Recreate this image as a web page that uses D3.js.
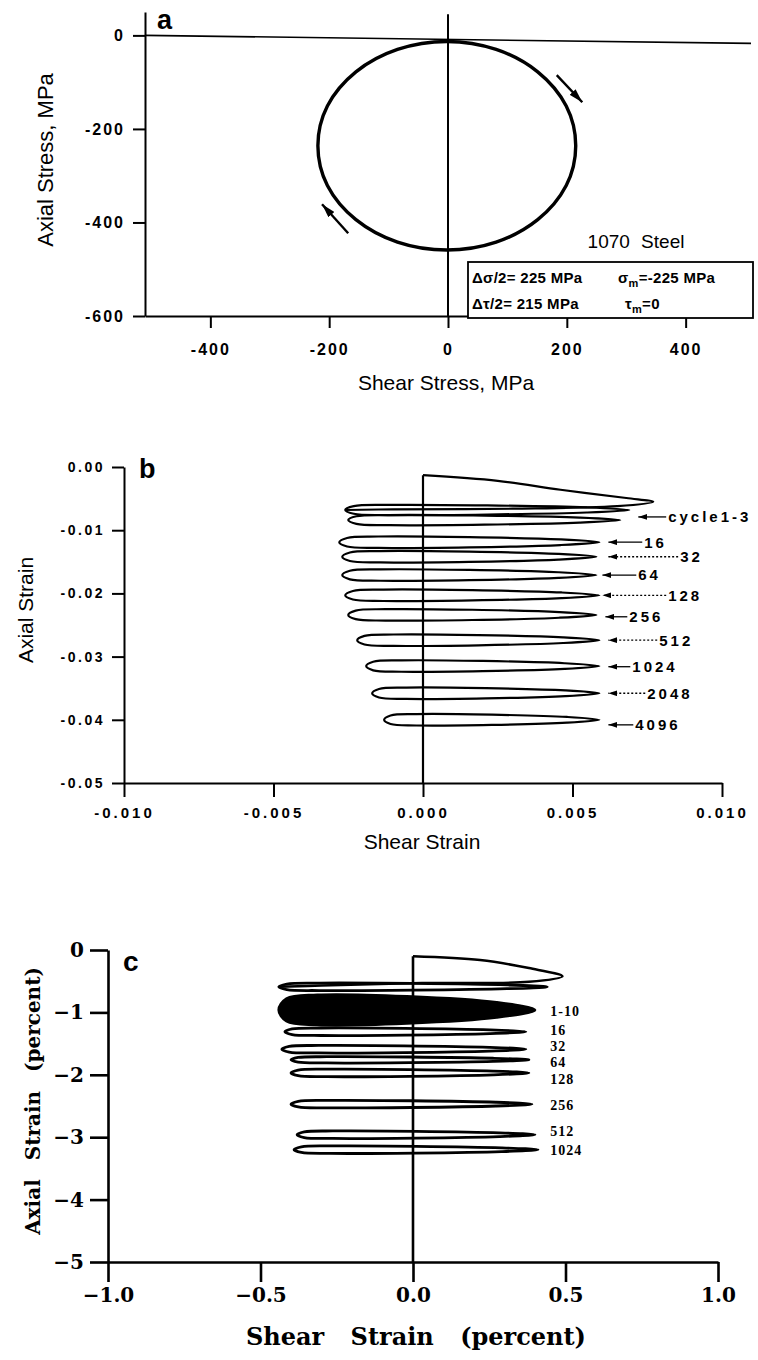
<!DOCTYPE html>
<html>
<head>
<meta charset="utf-8">
<script src="https://cdn.jsdelivr.net/npm/d3@7"></script>
<style>
  body { margin: 0; background: #fff; }
  svg { display: block; }
</style>
</head>
<body>
<div id="graph"></div>
<script>
// ---- panel a : stress path (MPa)
var circleTau   = [215, 199, 151, 81, -2, -85, -155, -203, -219, -203, -155, -85, -2, 81, 151, 199];
var circleSigma = [-236, -151, -78, -30, -13, -30, -78, -151, -236, -321, -394, -442, -459, -442, -394, -321];
var stressTicksX = [-400, -200, 0, 200, 400];
var stressTicksY = [0, -200, -400, -600];
var arrowFromTau = [183, -168], arrowFromSigma = [-85, -423];
var arrowToTau = [226, -212], arrowToSigma = [-143, -361];

// ---- panel b : strain response, strain units
var cyclesB = ["cycle1-3", "16", "32", "64", "128", "256", "512", "1024", "2048", "4096"];
var labelShearB = [0.0082, 0.0074, 0.0086, 0.0072, 0.0082, 0.0069, 0.0079, 0.0070, 0.0075, 0.0071];
var labelAxialB = [-0.0079, -0.0119, -0.0142, -0.0171, -0.0203, -0.0237, -0.0274, -0.0316, -0.0358, -0.0408];
var arrowTipB = [0.0072, 0.0062, 0.0062, 0.0060, 0.0060, 0.0061, 0.0062, 0.0062, 0.0062, 0.0062];
var loopAxialB = [-0.0068, -0.0084, -0.0119, -0.0142, -0.0171, -0.0203, -0.0234, -0.0274, -0.0315, -0.0358, -0.0400];
var loopLeftB  = [-0.0026, -0.0025, -0.0028, -0.0027, -0.0027, -0.0026, -0.0025, -0.0022, -0.0019, -0.0017, -0.0013];
var loopRightB = [0.0069, 0.0066, 0.0059, 0.0058, 0.0058, 0.0059, 0.0058, 0.0059, 0.0059, 0.0059, 0.0059];
var loopHalfB  = [0.0008, 0.0008, 0.0009, 0.0009, 0.0009, 0.0009, 0.0009, 0.0009, 0.0009, 0.0009, 0.0009];
var firstShearB = [0, 0.0025, 0.0046, 0.0068, 0.0077, 0.0065, 0.0030, -0.0010, -0.0026];
var firstAxialB = [-0.0013, -0.0022, -0.0036, -0.0049, -0.0055, -0.0062, -0.0066, -0.0067, -0.0068];
var strainTicksX = [-0.010, -0.005, 0, 0.005, 0.010];
var strainTicksY = [0, -0.01, -0.02, -0.03, -0.04, -0.05];

// ---- panel c : strain response, percent
var cyclesC = ["1-10", "16", "32", "64", "128", "256", "512", "1024"];
var labelAxialC = [-0.98, -1.28, -1.54, -1.80, -2.07, -2.49, -2.90, -3.20];
var labelShearC = 0.45;
var loopAxialC = [-0.59, -0.96, -1.31, -1.59, -1.76, -1.97, -2.47, -2.96, -3.20];
var loopLeftC  = [-0.44, -0.44, -0.42, -0.43, -0.40, -0.40, -0.40, -0.38, -0.39];
var loopRightC = [0.44, 0.40, 0.37, 0.37, 0.38, 0.38, 0.39, 0.40, 0.41];
var loopHalfC  = [0.06, 0.24, 0.06, 0.06, 0.05, 0.06, 0.06, 0.06, 0.06];
var firstShearC = [0, 0.22, 0.38, 0.49, 0.38, 0.03, -0.30, -0.44];
var firstAxialC = [-0.10, -0.16, -0.29, -0.42, -0.51, -0.53, -0.57, -0.59];
var pctTicksX = [-1, -0.5, 0, 0.5, 1];
var pctTicksY = [0, -1, -2, -3, -4, -5];

var W = 758, H = 1360;
var svg = d3.select("#graph").append("svg")
  .attr("width", W).attr("height", H);

var defs = svg.append("defs");
defs.append("marker").attr("id", "headBig")
  .attr("viewBox", "0 0 14 8").attr("refX", 14).attr("refY", 4)
  .attr("markerWidth", 14).attr("markerHeight", 8)
  .attr("markerUnits", "userSpaceOnUse").attr("orient", "auto")
  .append("path").attr("d", "M0,0L14,4L0,8Z").attr("fill", "#000");
defs.append("marker").attr("id", "headSmall")
  .attr("viewBox", "0 0 9 6").attr("refX", 9).attr("refY", 3)
  .attr("markerWidth", 9).attr("markerHeight", 6)
  .attr("markerUnits", "userSpaceOnUse").attr("orient", "auto")
  .append("path").attr("d", "M0,0L9,3L0,6Z").attr("fill", "#000");

// lens shaped hysteresis loop through its tips
function loopPoints(left, right, c, h) {
  var u = [0, 0.03, 0.15, 0.5, 0.85, 1, 0.85, 0.5, 0.15, 0.03];
  var v = [0, 0.75, 1, 0.9, 0.5, 0, -0.5, -0.9, -1, -0.75];
  return u.map(function(f, k) { return [left + f * (right - left), c + v[k] * h]; });
}

function styleAxis(g, size, weight, spacing, family) {
  g.select(".domain").attr("stroke", "#000").attr("stroke-width", 2);
  g.selectAll(".tick line").attr("stroke", "#000").attr("stroke-width", 2);
  g.selectAll(".tick text").attr("fill", "#000")
    .attr("font-family", family).attr("font-size", size)
    .attr("font-weight", weight).attr("letter-spacing", spacing);
}

var SANS = "'Liberation Sans', Arial, sans-serif";
var SERIF = "'DejaVu Serif', serif";

// ================= panel a =================
var xa = d3.scaleLinear().domain([-510, 510]).range([145, 751]);
var ya = d3.scaleLinear().domain([50, -600]).range([12, 316]);
var ga = svg.append("g");

ga.append("g").attr("transform", "translate(0," + ya(-600) + ")")
  .call(d3.axisBottom(xa).tickValues(stressTicksX).tickSize(12).tickSizeOuter(0).tickPadding(16)
    .tickFormat(function(d) { return String(d); }))
  .call(styleAxis, 16, "bold", 2, SANS);
ga.append("g").attr("transform", "translate(" + xa(-510) + ",0)")
  .call(d3.axisLeft(ya).tickValues(stressTicksY).tickSize(12).tickSizeOuter(0).tickPadding(8)
    .tickFormat(function(d) { return String(d); }))
  .call(styleAxis, 16, "bold", 2, SANS);

// zero lines
ga.append("line").attr("x1", xa(-510)).attr("x2", xa(510)).attr("y1", ya(0)).attr("y2", ya(0) + 8)
  .attr("stroke", "#000").attr("stroke-width", 1.6);
ga.append("line").attr("x1", xa(0)).attr("x2", xa(0)).attr("y1", ya(45)).attr("y2", ya(-600))
  .attr("stroke", "#000").attr("stroke-width", 2);

var circle = circleTau.map(function(t, i) { return [t, circleSigma[i]]; });
ga.append("path").datum(circle)
  .attr("d", d3.line().x(function(d) { return xa(d[0]); }).y(function(d) { return ya(d[1]); })
    .curve(d3.curveCardinalClosed))
  .attr("fill", "none").attr("stroke", "#000").attr("stroke-width", 3.4);

arrowFromTau.forEach(function(t, i) {
  ga.append("line")
    .attr("x1", xa(t)).attr("y1", ya(arrowFromSigma[i]))
    .attr("x2", xa(arrowToTau[i])).attr("y2", ya(arrowToSigma[i]))
    .attr("stroke", "#000").attr("stroke-width", 2.4)
    .attr("marker-end", "url(#headBig)");
});

ga.append("text").attr("x", 157).attr("y", 29).attr("font-family", SANS)
  .attr("font-weight", "bold").attr("font-size", 27).text("a");
ga.append("text").attr("transform", "translate(53,160) rotate(-90)")
  .attr("text-anchor", "middle").attr("font-family", SANS).attr("font-size", 22)
  .text("Axial Stress, MPa");
ga.append("text").attr("x", 446).attr("y", 390).attr("text-anchor", "middle")
  .attr("font-family", SANS).attr("font-size", 21).text("Shear Stress, MPa");
ga.append("text").attr("x", 636).attr("y", 248).attr("text-anchor", "middle")
  .attr("font-family", SANS).attr("font-size", 19).attr("word-spacing", 6).text("1070 Steel");

ga.append("rect").attr("x", 468).attr("y", 262).attr("width", 285).attr("height", 56)
  .attr("fill", "#fff").attr("stroke", "#000").attr("stroke-width", 1.8);
function legendLine(x, y) {
  return ga.append("text").attr("x", x).attr("y", y).attr("font-family", SANS)
    .attr("font-size", 15).attr("font-weight", "bold").attr("letter-spacing", 0.3);
}
legendLine(472, 283).text("\u0394\u03c3/2= 225 MPa");
var l1b = legendLine(618, 283);
l1b.append("tspan").text("\u03c3");
l1b.append("tspan").attr("dy", 4).attr("font-size", 11).text("m");
l1b.append("tspan").attr("dy", -4).text("=-225 MPa");
legendLine(472, 309).text("\u0394\u03c4/2= 215 MPa");
var l2b = legendLine(625, 309);
l2b.append("tspan").text("\u03c4");
l2b.append("tspan").attr("dy", 4).attr("font-size", 11).text("m");
l2b.append("tspan").attr("dy", -4).text("=0");

// ================= panel b =================
var xb = d3.scaleLinear().domain([-0.01, 0.01]).range([124, 722]);
var yb = d3.scaleLinear().domain([0, -0.05]).range([467, 783]);
var gb = svg.append("g");

gb.append("g").attr("transform", "translate(0," + yb(-0.05) + ")")
  .call(d3.axisBottom(xb).tickValues(strainTicksX).tickSize(14).tickSizeOuter(0).tickPadding(10)
    .tickFormat(function(d) { return d.toFixed(3); }))
  .call(styleAxis, 15, "bold", 3, SANS);
gb.append("g").attr("transform", "translate(" + xb(-0.01) + ",0)")
  .call(d3.axisLeft(yb).tickValues(strainTicksY).tickSize(12).tickSizeOuter(0).tickPadding(7)
    .tickFormat(function(d) { return d.toFixed(2); }))
  .call(styleAxis, 14, "bold", 2.5, SANS);

var lineB = d3.line().x(function(d) { return xb(d[0]); }).y(function(d) { return yb(d[1]); });

gb.append("line").attr("x1", xb(0)).attr("x2", xb(0)).attr("y1", yb(firstAxialB[0])).attr("y2", yb(-0.05))
  .attr("stroke", "#000").attr("stroke-width", 2.2);
gb.append("path").datum(firstShearB.map(function(s, i) { return [s, firstAxialB[i]]; }))
  .attr("d", lineB.curve(d3.curveCatmullRom.alpha(0.5)))
  .attr("fill", "none").attr("stroke", "#000").attr("stroke-width", 2.2);

loopAxialB.forEach(function(c, i) {
  gb.append("path").datum(loopPoints(loopLeftB[i], loopRightB[i], c, loopHalfB[i]))
    .attr("d", lineB.curve(d3.curveCatmullRomClosed.alpha(0.5)))
    .attr("fill", "none").attr("stroke", "#000").attr("stroke-width", 2.2);
});

cyclesB.forEach(function(lab, i) {
  var yy = yb(labelAxialB[i]);
  var xt = xb(labelShearB[i]);
  gb.append("line").attr("x1", xt - 2).attr("x2", xb(arrowTipB[i])).attr("y1", yy).attr("y2", yy)
    .attr("stroke", "#000").attr("stroke-width", 1.3)
    .attr("stroke-dasharray", (i > 0 && i % 2 === 0) ? "2,2" : null)
    .attr("marker-end", "url(#headSmall)");
  gb.append("text").attr("x", xt).attr("y", yy).attr("dy", "0.36em")
    .attr("font-family", SANS).attr("font-weight", "bold").attr("font-size", 15)
    .attr("letter-spacing", 3).text(lab);
});

gb.append("text").attr("x", 139).attr("y", 478).attr("font-family", SANS)
  .attr("font-weight", "bold").attr("font-size", 27).text("b");
gb.append("text").attr("transform", "translate(33,610) rotate(-90)")
  .attr("text-anchor", "middle").attr("font-family", SANS).attr("font-size", 21)
  .text("Axial Strain");
gb.append("text").attr("x", 422).attr("y", 849).attr("text-anchor", "middle")
  .attr("font-family", SANS).attr("font-size", 21).text("Shear Strain");

// ================= panel c =================
var xc = d3.scaleLinear().domain([-1, 1]).range([108, 718]);
var yc = d3.scaleLinear().domain([0, -5]).range([950, 1262]);
var gc = svg.append("g");

function minusFmt(p) {
  return function(d) { return (d < 0 ? "\u2212" : "") + Math.abs(d).toFixed(p); };
}

gc.append("g").attr("transform", "translate(0," + yc(-5) + ")")
  .call(d3.axisBottom(xc).tickValues(pctTicksX).tickSize(20).tickSizeOuter(0).tickPadding(6)
    .tickFormat(minusFmt(1)))
  .call(styleAxis, 20, "bold", 0, SERIF);
gc.append("g").attr("transform", "translate(" + xc(-1) + ",0)")
  .call(d3.axisLeft(yc).tickValues(pctTicksY).tickSize(18).tickSizeOuter(0).tickPadding(6)
    .tickFormat(minusFmt(0)))
  .call(styleAxis, 20, "bold", 0, SERIF);
gc.selectAll(".domain, .tick line").attr("stroke-width", 2.6);

var lineC = d3.line().x(function(d) { return xc(d[0]); }).y(function(d) { return yc(d[1]); });

gc.append("line").attr("x1", xc(0)).attr("x2", xc(0)).attr("y1", yc(firstAxialC[0])).attr("y2", yc(-5))
  .attr("stroke", "#000").attr("stroke-width", 2.6);
gc.append("path").datum(firstShearC.map(function(s, i) { return [s, firstAxialC[i]]; }))
  .attr("d", lineC.curve(d3.curveCatmullRom.alpha(0.5)))
  .attr("fill", "none").attr("stroke", "#000").attr("stroke-width", 2.6);

loopAxialC.forEach(function(c, i) {
  var band = loopHalfC[i] > 0.15; // cycles 1-10 overlap into a solid band
  gc.append("path").datum(loopPoints(loopLeftC[i], loopRightC[i], c, loopHalfC[i]))
    .attr("d", lineC.curve(d3.curveCatmullRomClosed.alpha(0.5)))
    .attr("fill", band ? "#000" : "none").attr("stroke", "#000").attr("stroke-width", 2.8);
});

cyclesC.forEach(function(lab, i) {
  gc.append("text").attr("x", xc(labelShearC)).attr("y", yc(labelAxialC[i])).attr("dy", "0.36em")
    .attr("font-family", "'Liberation Serif', 'Times New Roman', serif").attr("font-weight", "bold")
    .attr("font-size", 14).attr("letter-spacing", 1).text(lab);
});

gc.append("text").attr("x", 123).attr("y", 971).attr("font-family", SANS)
  .attr("font-weight", "bold").attr("font-size", 28).text("c");
gc.append("text").attr("transform", "translate(40,1101) rotate(-90)")
  .attr("text-anchor", "middle").attr("font-family", SERIF).attr("font-weight", "bold")
  .attr("font-size", 20).attr("word-spacing", 12).text("Axial Strain (percent)");
gc.append("text").attr("x", 416).attr("y", 1345).attr("text-anchor", "middle")
  .attr("font-family", SERIF).attr("font-weight", "bold").attr("font-size", 24)
  .attr("word-spacing", 18).text("Shear Strain (percent)");
</script>
</body>
</html>
